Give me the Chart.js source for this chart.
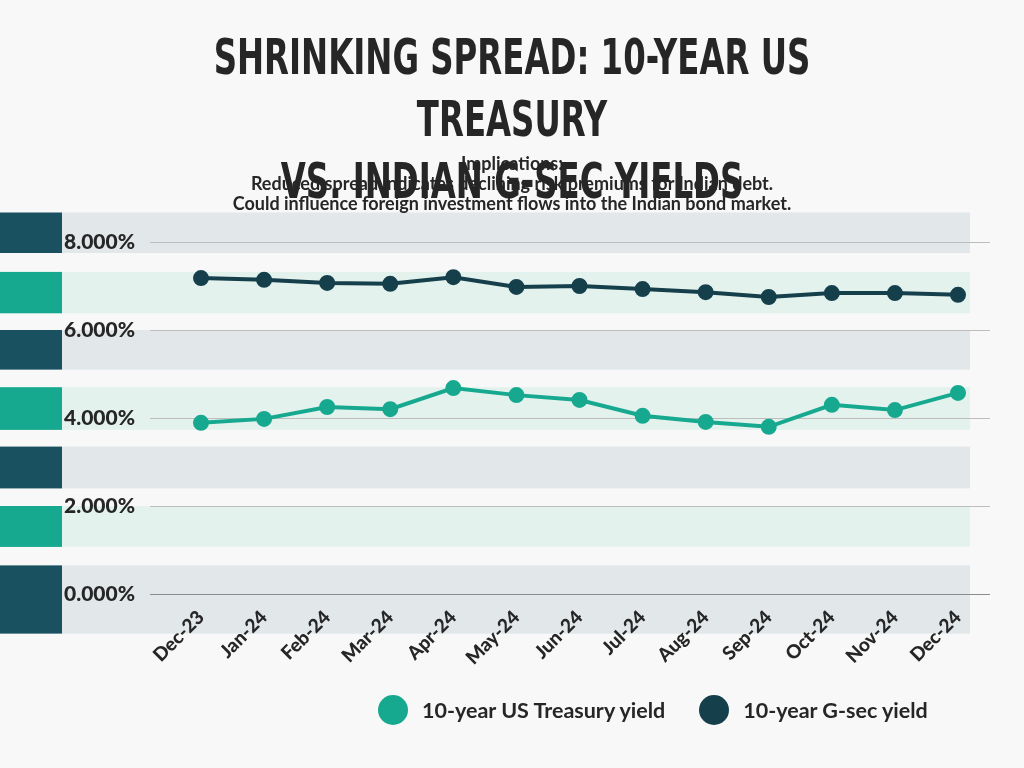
<!DOCTYPE html>
<html>
<head>
<meta charset="utf-8">
<script src="https://cdn.jsdelivr.net/npm/chart.js@4.4.3/dist/chart.umd.min.js"></script>
<style>
  html, body { margin: 0; padding: 0; background: #f8f8f8; }
  #wrap { position: relative; width: 1024px; height: 768px; overflow: hidden; }
  #title {
    position: absolute; top: 26px; left: 0; width: 1024px; text-align: center;
    font-family: "DejaVu Sans Condensed", "DejaVu Sans"; font-weight: bold;
    font-size: 50px; line-height: 62px; color: #262626; letter-spacing: 0px;
    transform: scaleX(0.72);
  }
  #sub {
    position: absolute; top: 153px; left: 0; width: 1024px; text-align: center;
    font-family: Lato, "Open Sans"; font-weight: bold; font-size: 18px; line-height: 20px; color: #262626;
  }
  #legend {
    position: absolute; top: 695px; left: 378px; font-family: Lato; font-weight: bold;
    font-size: 21.5px; color: #262626; display: flex; align-items: center;
  }
  .dot { width: 30px; height: 30px; border-radius: 50%; display: inline-block; margin-right: 14px; }
  canvas { position: absolute; top: 0; left: 0; }
</style>
</head>
<body>
<div id="wrap">
  <canvas id="c" width="1024" height="768"></canvas>
  <div id="title">SHRINKING SPREAD: 10-YEAR US TREASURY<br>VS. INDIAN G-SEC YIELDS</div>
  <div id="sub">Implications:<br>Reduced spread indicates declining risk premiums for Indian debt.<br>Could influence foreign investment flows into the Indian bond market.</div>
  <div id="legend">
    <span class="dot" style="background:#17a98f"></span><span style="margin-right:34px">10-year US Treasury yield</span>
    <span class="dot" style="background:#163f4c"></span><span>10-year G-sec yield</span>
  </div>
</div>
<script>
  "use strict";

  /* ── Data ─────────────────────────────────────────────── */
  const months    = ["Dec-23", "Jan-24", "Feb-24", "Mar-24", "Apr-24", "May-24", "Jun-24",
                     "Jul-24", "Aug-24", "Sep-24", "Oct-24", "Nov-24", "Dec-24"];
  const usYield   = [3.89, 3.98, 4.25, 4.20, 4.68, 4.52, 4.41, 4.05, 3.91, 3.80, 4.30, 4.18, 4.57];
  const gsecYield = [7.18, 7.14, 7.07, 7.05, 7.20, 6.98, 7.00, 6.93, 6.86, 6.75, 6.84, 6.84, 6.80];
  const yTicks    = [0, 2, 4, 6, 8];

  const TEAL = "#17a98f", DARK = "#163f4c";

  /* ── Background bands + grid ──────────────────────────── */
  const bands = {
    id: "bands",
    beforeDraw(chart) {
      const ctx = chart.ctx, y = chart.scales.y;
      ctx.save();
      const rows = [
        [8.67, 7.75, "#e2e7e9", "#1a5160"],
        [7.32, 6.38, "#e4f2ee", TEAL],
        [6.0, 5.1, "#e2e7e9", "#1a5160"],
        [4.7, 3.73, "#e4f2ee", TEAL],
        [3.35, 2.4, "#e2e7e9", "#1a5160"],
        [2.0, 1.07, "#e4f2ee", TEAL],
        [0.65, -0.9, "#e2e7e9", "#1a5160"],
      ];
      rows.forEach(([a, b, bg, side]) => {
        const t = y.getPixelForValue(a), bt = y.getPixelForValue(b);
        ctx.fillStyle = bg; ctx.fillRect(0, t, 970, bt - t);
        ctx.fillStyle = side; ctx.fillRect(0, t, 62, bt - t);
      });
      yTicks.forEach((v) => {
        const p = Math.round(y.getPixelForValue(v)) + 0.5;
        ctx.strokeStyle = v === 0 ? "#8c8c8c" : "#bdbdbd";
        ctx.lineWidth = 1;
        ctx.beginPath(); ctx.moveTo(150, p); ctx.lineTo(990, p); ctx.stroke();
      });
      ctx.restore();
    },
  };

  const ds = (label, data, color) => ({
    label, data, borderColor: color, backgroundColor: color,
    borderWidth: 4, pointRadius: 6, pointHoverRadius: 6, tension: 0,
  });

  new Chart(document.getElementById("c"), {
    type: "line",
    data: { labels: months, datasets: [ds("10-year US Treasury yield", usYield, TEAL), ds("10-year G-sec yield", gsecYield, DARK)] },
    options: {
      responsive: false,
      animation: false,
      layout: { padding: { top: 242, right: 66, left: 64, bottom: 0 } },
      plugins: { legend: { display: false }, tooltip: { enabled: false } },
      scales: {
        x: {
          offset: false,
          grid: { display: false }, border: { display: false },
          ticks: { minRotation: 45, maxRotation: 45, color: "#262626", padding: 4,
                   font: { family: "Lato", weight: "900", size: 19 } },
          afterFit: (s) => { s.height = 174; },
        },
        y: {
          min: 0, max: 8,
          afterBuildTicks: (s) => { s.ticks = yTicks.map((v) => ({ value: v })); },
          grid: { display: false }, border: { display: false },
          ticks: { crossAlign: "far", color: "#262626", padding: 0,
                   font: { family: "Lato", weight: "900", size: 21 },
                   callback: (v) => v.toFixed(3) + "%" },
          afterFit: (s) => { s.width = 137; },
        },
      },
    },
    plugins: [bands],
  });
</script>
</body>
</html>
